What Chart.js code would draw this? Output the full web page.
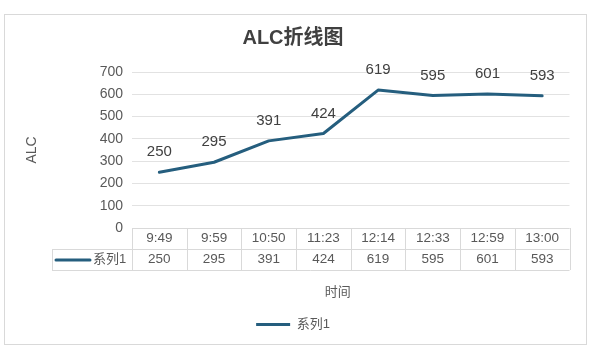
<!DOCTYPE html>
<html>
<head>
<meta charset="utf-8">
<script src="https://cdn.jsdelivr.net/npm/chart.js@4"></script>
<style>
    body { margin: 0; background: #ffffff; }
    canvas { display: block; }
</style>
</head>
<body>
<canvas id="chart" width="600" height="356"></canvas>
<script>
const times = ["9:49", "9:59", "10:50", "11:23", "12:14", "12:33", "12:59", "13:00"];
const alcValues = [250, 295, 391, 424, 619, 595, 601, 593];
const seriesName = "系列1";
const yTicks = [0, 100, 200, 300, 400, 500, 600, 700];

const FONT = "'Liberation Sans', 'Noto Sans CJK SC', sans-serif";
const lineColor = "#255E7E";
const textColor = "#595959";
const gridColor = "#d9d9d9";

// outer frame like the excel chart area
const framePlugin = {
    id: "frame",
    beforeDraw(chart) {
        const ctx = chart.ctx;
        ctx.save();
        ctx.strokeStyle = "#d9d9d9";
        ctx.lineWidth = 1;
        ctx.strokeRect(4.5, 14.5, 582, 330);
        ctx.restore();
    }
};

// value labels above each point
const labelPlugin = {
    id: "pointLabels",
    afterDatasetsDraw(chart) {
        const ctx = chart.ctx;
        const meta = chart.getDatasetMeta(0);
        ctx.save();
        ctx.font = "15px " + FONT;
        ctx.fillStyle = "#404040";
        ctx.textAlign = "center";
        ctx.textBaseline = "middle";
        meta.data.forEach((pt, i) => {
            ctx.fillText(alcValues[i], pt.x, pt.y - 20);
        });
        ctx.restore();
    }
};

// data table under the plot + axis title
const tablePlugin = {
    id: "dataTable",
    afterDraw(chart) {
        const ctx = chart.ctx;
        const x = chart.scales.x;
        const area = chart.chartArea;
        const half = (x.getPixelForValue(1) - x.getPixelForValue(0)) / 2;
        const top = area.bottom;
        const mid = top + 21;
        const bot = top + 42;
        const keyLeft = area.left - 80;

        ctx.save();
        ctx.strokeStyle = gridColor;
        ctx.lineWidth = 1;
        ctx.beginPath();
        ctx.moveTo(area.left, top + 0.5);
        ctx.lineTo(area.right, top + 0.5);
        ctx.moveTo(keyLeft, mid + 0.5);
        ctx.lineTo(area.right, mid + 0.5);
        ctx.moveTo(keyLeft, bot + 0.5);
        ctx.lineTo(area.right, bot + 0.5);
        for (let i = 0; i <= times.length; i++) {
            let px = Math.round(x.getPixelForValue(i) - half) + 0.5;
            ctx.moveTo(px, top);
            ctx.lineTo(px, bot);
        }
        ctx.moveTo(keyLeft + 0.5, mid);
        ctx.lineTo(keyLeft + 0.5, bot);
        ctx.stroke();

        ctx.font = "13.5px " + FONT;
        ctx.fillStyle = textColor;
        ctx.textAlign = "center";
        ctx.textBaseline = "middle";
        times.forEach((t, i) => {
            let px = x.getPixelForValue(i);
            ctx.fillText(t, px, top + 10);
            ctx.fillText(alcValues[i], px, mid + 10);
        });

        // series key in the table
        ctx.strokeStyle = lineColor;
        ctx.lineWidth = 3;
        ctx.lineCap = "round";
        ctx.beginPath();
        ctx.moveTo(keyLeft + 4, mid + 11);
        ctx.lineTo(keyLeft + 38, mid + 11);
        ctx.stroke();
        ctx.textAlign = "left";
        ctx.font = "13px " + FONT;
        ctx.fillText(seriesName, keyLeft + 41, mid + 10);

        // x axis title
        ctx.textAlign = "center";
        ctx.font = "13px " + FONT;
        ctx.fillText("时间", (area.left + area.right) / 2 - 13, bot + 22);
        ctx.restore();
    }
};

let ctx = document.getElementById("chart").getContext("2d");
let chart = new Chart(ctx, {
    type: "line",
    data: {
        labels: times,
        datasets: [
            {
                label: seriesName,
                data: alcValues,
                borderColor: lineColor,
                backgroundColor: lineColor,
                borderWidth: 3,
                borderCapStyle: "round",
                borderJoinStyle: "round",
                pointRadius: 0,
                tension: 0,
                fill: false
            }
        ]
    },
    options: {
        responsive: false,
        animation: false,
        layout: {
            padding: { top: 15, left: 16.5, right: 30.5, bottom: 15 }
        },
        scales: {
            x: {
                type: "category",
                offset: true,
                ticks: { display: false },
                grid: { display: false },
                border: { display: false },
                afterFit(scale) { scale.height = 80; }
            },
            y: {
                min: 0,
                max: 700,
                afterBuildTicks(scale) {
                    scale.ticks = yTicks.map(v => ({ value: v }));
                },
                ticks: {
                    color: textColor,
                    font: { family: FONT, size: 14 },
                    padding: 9
                },
                grid: { color: "#e2e2e2", drawTicks: false },
                border: { display: false },
                title: {
                    display: true,
                    text: "ALC",
                    color: textColor,
                    font: { family: FONT, size: 14 },
                    padding: { top: 7, bottom: 0 }
                },
                afterFit(scale) { scale.width = 132 - 16.5; }
            }
        },
        plugins: {
            title: {
                display: true,
                text: "ALC折线图",
                color: "#404040",
                font: { family: FONT, size: 20, weight: "bold" },
                padding: { top: 11, bottom: 22 }
            },
            legend: {
                display: true,
                position: "bottom",
                labels: {
                    color: textColor,
                    font: { family: FONT, size: 13 },
                    usePointStyle: true,
                    pointStyle: "line",
                    pointStyleWidth: 34,
                    padding: 10
                }
            },
            tooltip: { enabled: false }
        }
    },
    plugins: [framePlugin, labelPlugin, tablePlugin]
});
</script>
</body>
</html>
